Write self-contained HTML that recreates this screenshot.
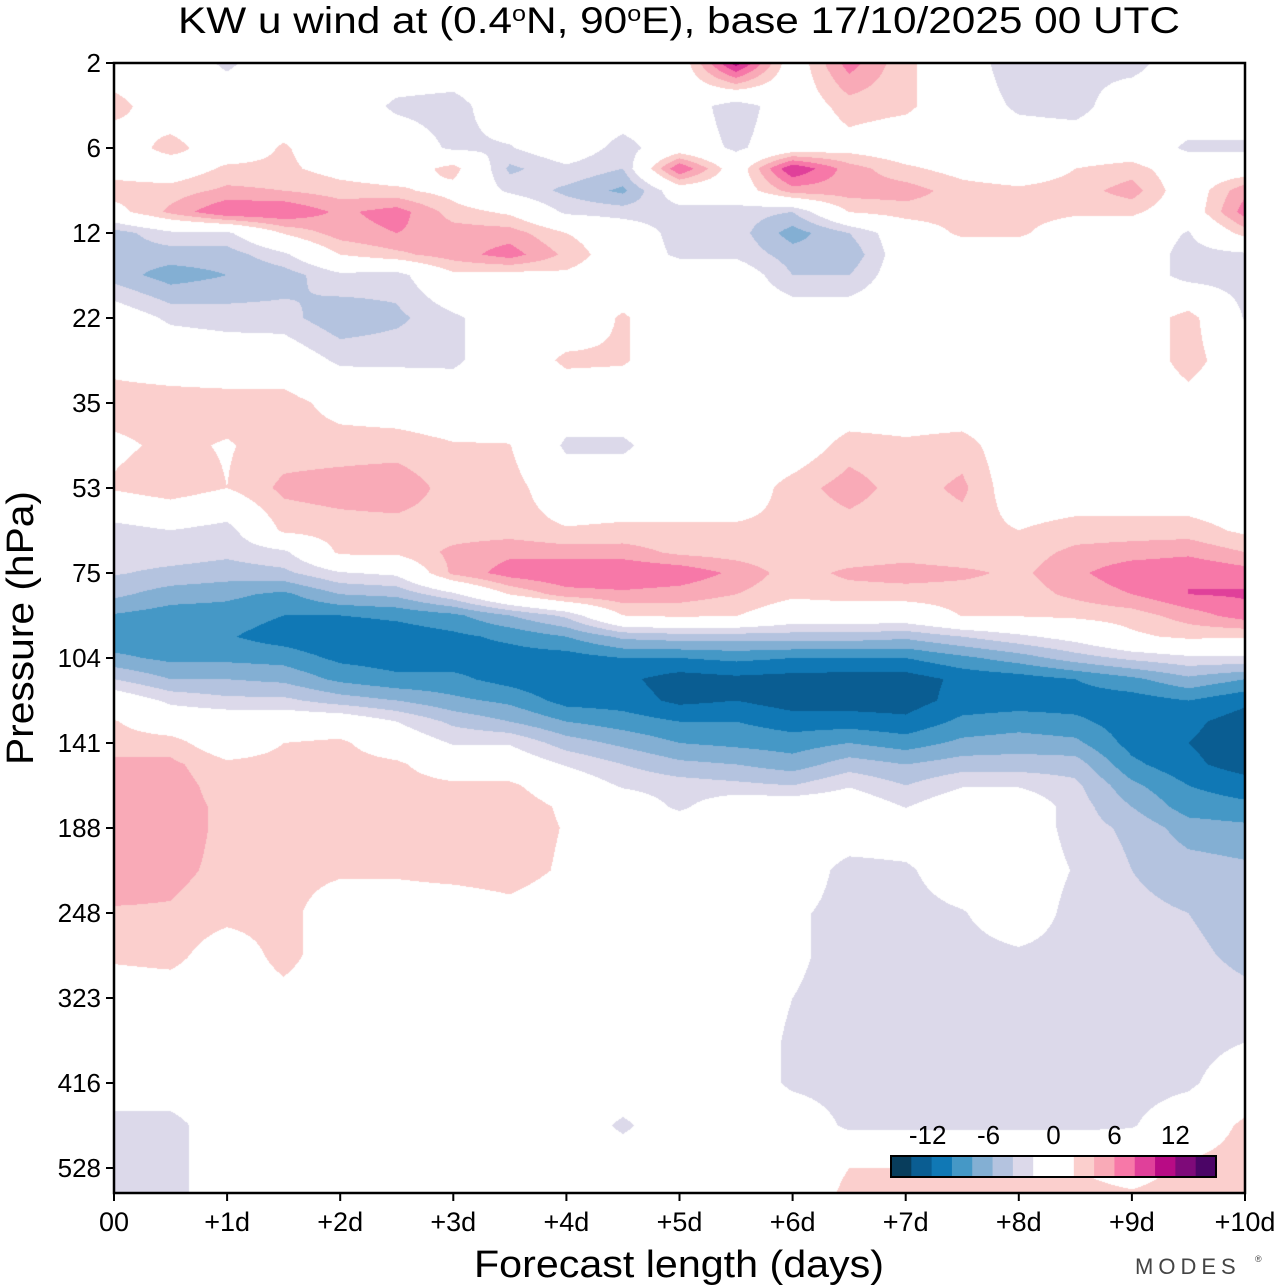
<!DOCTYPE html>
<html>
<head>
<meta charset="utf-8">
<style>
  html,body{margin:0;padding:0;background:#fff;}
  #wrap{position:relative;width:1280px;height:1286px;overflow:hidden;background:#fff;}
  #field{position:absolute;left:114px;top:63px;}
  #overlay{position:absolute;left:0;top:0;}
  text{font-family:"Liberation Sans Narrow","Liberation Sans",sans-serif;fill:#000;}
</style>
</head>
<body>
<div id="wrap">
  <canvas id="field" width="1131" height="1130"></canvas>
  <svg id="overlay" width="1280" height="1286" viewBox="0 0 1280 1286">
    <g id="colorbar"></g>
    <rect x="114" y="63" width="1131" height="1130" fill="none" stroke="#000" stroke-width="2.5"/>
    <g id="yticks"></g>
    <g id="xticks"></g>
    <text x="679" y="33" font-size="37" text-anchor="middle" textLength="1002" lengthAdjust="spacingAndGlyphs">KW u wind at (0.4<tspan dy="-12" font-size="22">o</tspan><tspan dy="12">N, 90</tspan><tspan dy="-12" font-size="22">o</tspan><tspan dy="12">E),  base 17/10/2025  00 UTC</tspan></text>
    <text x="679" y="1277" font-size="38" text-anchor="middle" textLength="410" lengthAdjust="spacingAndGlyphs">Forecast length (days)</text>
    <text transform="translate(33,628) rotate(-90)" font-size="38" text-anchor="middle" textLength="274" lengthAdjust="spacingAndGlyphs">Pressure (hPa)</text>
    <text x="1135" y="1274" font-size="22" fill="#444" style="fill:#444;letter-spacing:5px">MODES</text>
    <text x="1255" y="1262" font-size="9" style="fill:#444">®</text>
  </svg>
</div>
<script>
// ---- data ----
const times = [0,0.5,1,1.5,2,2.5,3,3.5,4,4.5,5,5.5,6,6.5,7,7.5,8,8.5,9,9.5,10];
const levels = [2,3.5,6,7.1,8.5,10.1,12,14,16.2,22,27.7,35,43.1,53,63,68.9,75,81.4,88.3,95.8,104,112.2,121.1,130.6,141,151.6,162.8,175,188,215.9,248,283,323,366.6,416,468.7,528,595];
const tickPressures = [2,6,12,22,35,53,75,104,141,188,248,323,416,528];
const tickDays = ["00","+1d","+2d","+3d","+4d","+5d","+6d","+7d","+8d","+9d","+10d"];
const colorBounds = [-14,-12,-10,-8,-6,-4,-2,2,4,6,8,10,12,14];
const colorList = ["#083d5c","#0a5d92","#1078b5","#4598c6","#83afd3","#b4c3df","#dcd9ea","#ffffff","#fbcfcd","#f9aab7","#f778a8","#e0409a","#b80b85","#7e0a79","#4b0566"];
const colorbarLabels = [-12,-6,0,6,12];

const u00 = [0,3,0,1,3,1,-5,-5,-5,0,1.2,3,1.5,2.3,-3,-3,-3.8,-5.5,-8.2,-9.5,-7.5,-4,0,2.2,3,4.5,5,5,5,5,3.8,2.5,0,0,0,-3,-3,-3];
const u05 = [0,0,3,0,3,4.5,-2.5,-5,-7,-2.5,0.5,3,2.5,3.5,-2,-3,-4.5,-7,-9,-9.5,-8.5,-6,-2.5,0,3,4.5,5,5,5,4.5,3.8,3,0,0,0,-3,-3,-3];
const u10 = [-2.5,0,0,2.5,4.5,8,-2.5,-5,-6,-3,0,3,1.8,2,-3,-3.5,-5,-7.5,-9,-9.8,-8.5,-6,-3.5,0,0,2.5,3,3.5,3.5,3.5,3,0,0,0,0,0,0,0];
const u15 = [0,0,2.3,2.5,4,8,2.2,-2.5,-5,-3.2,0,3,3,4.5,2.5,-2.5,-4.5,-8.5,-10,-11,-8.8,-6.5,-3.5,0,2,2.8,3,3.2,3.2,3,3,3,1,0,0,0,0,0];
const u20 = [0,0,0,1,3,5.5,5,2,-2.5,-5.5,-2.5,1,3,5,3,2.5,-2.2,-6,-10,-12,-10.5,-8.5,-5,0,2.5,3,3,3,3,2.5,0,0,0,0,0,0,0,0];
const u25 = [0,-2.5,0,0,2.5,7,6,3.5,-3,-4.5,-2.5,0.5,3,5.5,3,2.5,-1.5,-5.5,-9.5,-11.3,-11,-9.5,-6,-2,0,2.5,3,3,3,2.5,0,0,0,0,0,0,0,0];
const u30 = [0,-3,-2.5,3,1,3,5,5,1.5,-2.5,-2.5,0,2.2,3,3,4.5,4.5,-2.5,-8.5,-10.5,-11,-9.5,-7.5,-4.5,-2.2,0,2.5,3,3.2,3,0,0,0,0,0,0,0,0];
const u35 = [0,0,-2.2,-4.5,-2.5,1.5,5,7,1,0,0,0,2.1,3,3,5.5,7,2.1,-6,-9.5,-11,-10.8,-8.5,-6,-2.2,0,2.5,3.5,3.5,3.3,1,0,0,0,0,0,0,0];
const u40 = [0,0,0,-2.5,-4.5,-2.5,2,3.5,1.5,0,2.5,0,-2.5,0,2.2,5,8,5,-3.5,-8,-11,-12,-10.8,-8,-5,-2.2,0,1.5,1.8,1.5,0,0,0,0,0,0,0,0];
const u45 = [0,0,-3,-4,-6.5,-3,0,0,0,2.3,2.3,0,-2.5,0,2.5,5,8,5.5,2,-5.5,-10,-11.5,-11,-9,-6.5,-4,-2.3,0,0,0,0,0,0,0,0,-2.5,0,0];
const u50 = [0,0,0,8,0,-3,-3,-2.5,0,0,0,0,0,0,2.5,3.5,7.5,5,2.5,-5,-10,-13,-12.5,-10,-8,-5.5,-3,-2.5,0,0,0,0,0,0,0,0,0,0];
const u55 = [11,-3.5,-2.5,0,0,-3,-3,-2.5,0,0,0,0,0,0,2.5,3,5.5,4,2.1,-5,-9.5,-12.5,-12,-10,-8.5,-6,-3.5,0,0,0,0,0,0,0,0,0,0,0];
const u60 = [0,0,0,10,5,-4,-7,-5,-4,0,0,0,0,3,2.5,2.5,3,2.5,0,-5,-10,-12.8,-13,-11,-9,-7,-4,0,0,0,-1.5,-1.5,-2,-2.5,-2.5,0,0,0];
const u65 = [7,3,1,5,5,2.1,-4,-5.5,-4,0,0,0,3,5,3,2.5,4.5,3,0,-5,-10,-13,-13,-11,-8,-5,-2.2,0,0,-3,-3,-3,-3,-3,-3,-2.5,2,3];
const u70 = [2.5,2.5,0,2.5,5,3,0,0,0,0,0,0,2.5,3,2.5,3,5,3,0,-5.5,-10,-13,-13,-11.5,-9,-6,-4,-2.1,0,-2.5,-3,-3,-3,-3,-3,-2.5,2,3];
const u75 = [0,0,0,1,3,3,2.5,0,0,0,0,0,3,4.5,3,2.5,4.5,3,2.1,-4,-8.5,-11.5,-11.2,-9.5,-7.5,-5,-2.2,0,0,0,-2.2,-3,-3,-3,-3,-2.5,2,3];
const u80 = [-4,-2.5,0,0,2.5,3,2.5,0,0,0,0,0,0,0,2,3,3.5,3,2.2,-2.5,-7,-11,-11,-9,-7,-5,-2.2,0,0,0,0,-2.5,-3,-3,-3,-2.5,2,3];
const u85 = [-2.5,-3,0,2,3,2.5,0,0,0,0,0,0,0,0,3,4.5,5.5,4.5,2.5,-1,-5,-10,-11,-9.5,-7.5,-5,-3.5,-3,-3,-2.2,-3,-3,-3,-3,-3,-2.5,2,3];
const u90 = [-3,0,0,3,5,2.5,0,0,0,0,0,0,0,0,3,5,7.5,6,3,1.5,-3.5,-8.5,-11,-11.2,-10.8,-9.5,-7.5,-6,-4.5,-4,-3.5,-3,-3,-3,-3,-2.2,1,3];
const u95 = [0,0,-2.5,0,0,0,-2.2,-3,-3,3,3,1,0,0,3,5.5,8,8,5,2.5,-2.5,-6.5,-10,-11.5,-12,-11.5,-10,-9,-7,-5,-4,-3.5,-3,-3,-2.5,0,2.5,3];
const u100 = [0,0,-2.5,0,5.5,7,3,-2.5,-3,-2.2,0,0,0,0,1.5,4,7,8.3,7,2.2,-2.5,-8,-11.5,-13,-13.2,-13,-11,-9.5,-7.5,-5.5,-5,-4.5,-3.5,-2.1,0,2.5,3,3];

const profiles = [u00,u05,u10,u15,u20,u25,u30,u35,u40,u45,u50,u55,u60,u65,u70,u75,u80,u85,u90,u95,u100];

// ---- axes ----
const PX0 = 114, PX1 = 1245, PY0 = 63, TICK_STEP = 85;
function xScale(t){ return PX0 + (t - 0) / 10 * (PX1 - PX0); }
function yScale(p){
  const n = tickPressures.length;
  let i = 0;
  while (i < n - 2 && p > tickPressures[i + 1]) i++;
  const a = tickPressures[i], b = tickPressures[i + 1];
  const f = Math.log(p / a) / Math.log(b / a);
  return PY0 + (i + f) * TICK_STEP;
}
function hexToRgb(h){ return [parseInt(h.slice(1,3),16),parseInt(h.slice(3,5),16),parseInt(h.slice(5,7),16)]; }

// ---- contour field ----
(function(){
  const cv = document.getElementById('field');
  const ctx = cv.getContext('2d');
  const W = cv.width, H = cv.height;
  const img = ctx.createImageData(W, H);
  const rowY = levels.map(p => yScale(p) - PY0);
  const colX = times.map(t => xScale(t) - PX0);
  const rgbCache = colorList.map(hexToRgb);
  const rIdx = new Int32Array(H), rFrac = new Float32Array(H);
  for (let y = 0; y < H; y++){
    const yy = y + 0.5;
    let r = 0;
    while (r < rowY.length - 2 && yy > rowY[r + 1]) r++;
    rIdx[y] = r;
    rFrac[y] = Math.max(0, Math.min(1, (yy - rowY[r]) / (rowY[r + 1] - rowY[r])));
  }
  for (let x = 0; x < W; x++){
    const xx = x + 0.5;
    let c = 0;
    while (c < colX.length - 2 && xx > colX[c + 1]) c++;
    const fx = Math.max(0, Math.min(1, (xx - colX[c]) / (colX[c + 1] - colX[c])));
    const A = profiles[c], B = profiles[c + 1];
    for (let y = 0; y < H; y++){
      const r = rIdx[y], fy = rFrac[y];
      const v0 = A[r] + (A[r + 1] - A[r]) * fy;
      const v1 = B[r] + (B[r + 1] - B[r]) * fy;
      const v = v0 + (v1 - v0) * fx;
      let k = 0;
      while (k < colorBounds.length && v >= colorBounds[k]) k++;
      const rgb = rgbCache[k];
      const o = (y * W + x) * 4;
      img.data[o] = rgb[0]; img.data[o + 1] = rgb[1]; img.data[o + 2] = rgb[2]; img.data[o + 3] = 255;
    }
  }
  ctx.putImageData(img, 0, 0);
})();

// ---- axes ticks and labels ----
const NS = 'http://www.w3.org/2000/svg';
(function(){
  const gy = document.getElementById('yticks');
  tickPressures.forEach(function(p){
    const y = yScale(p);
    const ln = document.createElementNS(NS, 'line');
    ln.setAttribute('x1', PX0 - 8); ln.setAttribute('x2', PX0);
    ln.setAttribute('y1', y); ln.setAttribute('y2', y);
    ln.setAttribute('stroke', '#000'); ln.setAttribute('stroke-width', '2');
    
    
    gy.appendChild(ln);
    const tx = document.createElementNS(NS, 'text');
    tx.setAttribute('x', 101); tx.setAttribute('y', y + 9);
    tx.setAttribute('font-size', '26'); tx.setAttribute('text-anchor', 'end');
    tx.textContent = String(p);
    
    
    gy.appendChild(tx);
  });
  const gx = document.getElementById('xticks');
  tickDays.forEach(function(lbl, i){
    const x = xScale(i);
    const ln = document.createElementNS(NS, 'line');
    ln.setAttribute('x1', x); ln.setAttribute('x2', x);
    ln.setAttribute('y1', 1193); ln.setAttribute('y2', 1201);
    ln.setAttribute('stroke', '#000'); ln.setAttribute('stroke-width', '2');
    
    
    gx.appendChild(ln);
    const tx = document.createElementNS(NS, 'text');
    tx.setAttribute('x', x); tx.setAttribute('y', 1231);
    tx.setAttribute('font-size', '27'); tx.setAttribute('text-anchor', 'middle');
    tx.textContent = lbl;
    
    
    gx.appendChild(tx);
  });
  const gc = document.getElementById('colorbar');
  const cbX0 = 891, cbX1 = 1216, cbY = 1156, cbH = 21;
  const vMin = -16, vMax = 16;
  function cbScale(v){ return cbX0 + (v - vMin) / (vMax - vMin) * (cbX1 - cbX0); }
  const edges = [vMin].concat(colorBounds).concat([vMax]);
  for (let k = 0; k < colorList.length; k++){
    const rc = document.createElementNS(NS, 'rect');
    rc.setAttribute('x', cbScale(edges[k]));
    rc.setAttribute('y', cbY);
    rc.setAttribute('width', cbScale(edges[k + 1]) - cbScale(edges[k]) + 0.5);
    rc.setAttribute('height', cbH);
    rc.setAttribute('fill', colorList[k]);
    
    
    gc.appendChild(rc);
  }
  const bd = document.createElementNS(NS, 'rect');
  bd.setAttribute('x', cbX0); bd.setAttribute('y', cbY);
  bd.setAttribute('width', cbX1 - cbX0); bd.setAttribute('height', cbH);
  bd.setAttribute('fill', 'none'); bd.setAttribute('stroke', '#000'); bd.setAttribute('stroke-width', '2');
  
  
  gc.appendChild(bd);
  colorbarLabels.forEach(function(v){
    const tx = document.createElementNS(NS, 'text');
    tx.setAttribute('x', cbScale(v) + (v < 0 ? -4 : 0)); tx.setAttribute('y', 1144);
    tx.setAttribute('font-size', '26'); tx.setAttribute('text-anchor', 'middle');
    tx.textContent = String(v);
    
    
    gc.appendChild(tx);
  });
})();
</script>
</body>
</html>
